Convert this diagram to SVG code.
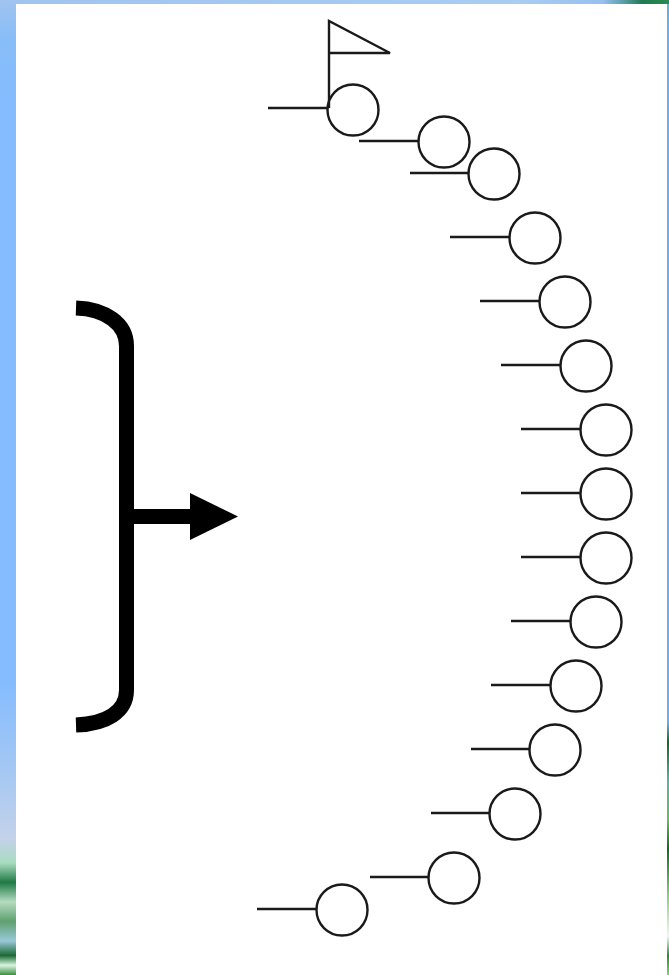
<svg xmlns="http://www.w3.org/2000/svg" width="669" height="975" viewBox="0 0 669 975">
<style>
.n{fill:none;stroke:#1a1a1a;stroke-width:2.4}
.l{fill:none;stroke:#1a1a1a;stroke-width:2.4}
.b{fill:none;stroke:#000;stroke-width:15}
</style>
<defs>
<linearGradient id="lg" x1="0" y1="0" x2="0" y2="1">
<stop offset="0" stop-color="#a0c4f0"/>
<stop offset="0.04" stop-color="#88bdf8"/>
<stop offset="0.1" stop-color="#85bcff"/>
<stop offset="0.7" stop-color="#85bcff"/>
<stop offset="0.8" stop-color="#a8c9f2"/>
<stop offset="0.86" stop-color="#c4d2ea"/>
<stop offset="0.885" stop-color="#a8dcc0"/>
<stop offset="0.905" stop-color="#1f7a45"/>
<stop offset="0.925" stop-color="#b4dcc0"/>
<stop offset="0.945" stop-color="#5fa070"/>
<stop offset="0.965" stop-color="#98c8d8"/>
<stop offset="0.98" stop-color="#1c6a34"/>
<stop offset="0.99" stop-color="#d8f4e0"/>
<stop offset="1" stop-color="#3c9040"/>
</linearGradient>
<linearGradient id="tg" x1="0" y1="0" x2="1" y2="0">
<stop offset="0" stop-color="#a0c4f0"/>
<stop offset="0.78" stop-color="#a8cdf0"/>
<stop offset="0.9" stop-color="#98c0f0"/>
<stop offset="0.93" stop-color="#5f9fb0"/>
<stop offset="0.96" stop-color="#1f7a50"/>
<stop offset="1" stop-color="#2a8a50"/>
</linearGradient>
<linearGradient id="rg" x1="0" y1="0" x2="0" y2="1">
<stop offset="0" stop-color="#6ab0d0"/>
<stop offset="0.03" stop-color="#6aaef0"/>
<stop offset="0.74" stop-color="#6aaef0"/>
<stop offset="0.76" stop-color="#0f6a20"/>
<stop offset="0.8" stop-color="#60b0a0"/>
<stop offset="0.84" stop-color="#60c060"/>
<stop offset="0.87" stop-color="#0f6a20"/>
<stop offset="0.92" stop-color="#90d080"/>
<stop offset="0.96" stop-color="#f0f8e8"/>
<stop offset="0.98" stop-color="#2f8a30"/>
<stop offset="1" stop-color="#80d070"/>
</linearGradient>
</defs>
<g id="background">
<rect x="0" y="0" width="16" height="975" fill="url(#lg)"/>
<rect x="0" y="0" width="669" height="4" fill="url(#tg)"/>
<rect x="667" y="4" width="2" height="971" fill="url(#rg)"/>
<rect x="16" y="4" width="651" height="971" fill="#fff"/>
</g>
<g id="connectors">
<path class="l" d="M268 108H327"/>
<path class="l" d="M359 141H418"/>
<path class="l" d="M410 173H468"/>
<path class="l" d="M450 237H509"/>
<path class="l" d="M480 301H539"/>
<path class="l" d="M501 365H560"/>
<path class="l" d="M521 429H580"/>
<path class="l" d="M521 493H580"/>
<path class="l" d="M521 557H580"/>
<path class="l" d="M511 621H570"/>
<path class="l" d="M491 685H550"/>
<path class="l" d="M471 749H529"/>
<path class="l" d="M431 813H489"/>
<path class="l" d="M370 877H428"/>
<path class="l" d="M257 909H316"/>
</g>
<g id="note1"><circle class="n" cx="353" cy="110" r="25.500"/></g>
<g id="note2"><circle class="n" cx="444" cy="142" r="25.500"/></g>
<g id="note3"><circle class="n" cx="494" cy="174" r="25.500"/></g>
<g id="note4"><circle class="n" cx="535" cy="238" r="25.500"/></g>
<g id="note5"><circle class="n" cx="565" cy="302" r="25.500"/></g>
<g id="note6"><circle class="n" cx="586" cy="366" r="25.500"/></g>
<g id="note7"><circle class="n" cx="606" cy="430" r="25.500"/></g>
<g id="note8"><circle class="n" cx="606" cy="494" r="25.500"/></g>
<g id="note9"><circle class="n" cx="606" cy="558" r="25.500"/></g>
<g id="note10"><circle class="n" cx="596" cy="622" r="25.500"/></g>
<g id="note11"><circle class="n" cx="576" cy="686" r="25.500"/></g>
<g id="note12"><circle class="n" cx="555" cy="750" r="25.500"/></g>
<g id="note13"><circle class="n" cx="515" cy="814" r="25.500"/></g>
<g id="note14"><circle class="n" cx="454" cy="878" r="25.500"/></g>
<g id="note15"><circle class="n" cx="342" cy="910" r="25.500"/></g>
<g id="flag"><path class="l" d="M329 108V21L390 53H329"/></g>
<g id="brace">
<path class="b" d="M76 308C106 309 126.500 324 126.500 346V690C126.500 712 106 724 76 725"/>
<path class="b" d="M126.500 516.500H195"/>
<path d="M190 493L238 516.500L190 540Z" fill="#000"/>
</g>
</svg>
